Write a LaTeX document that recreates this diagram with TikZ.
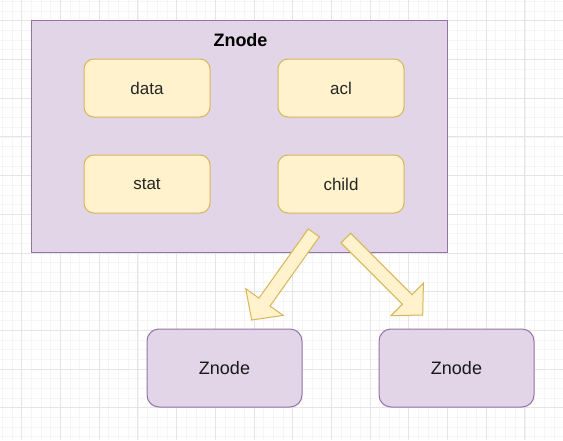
\documentclass[tikz,border=0pt]{standalone}
\usepackage{fontspec}
\setmainfont{Liberation Sans}
\usetikzlibrary{calc, backgrounds}
\definecolor{lavFill}{HTML}{E1D5E7}
\definecolor{lavDraw}{HTML}{9673A6}
\definecolor{creamFill}{HTML}{FFF2CC}
\definecolor{creamDraw}{HTML}{D6B656}
\tikzset{znodeBox/.style={shape=rectangle, draw=lavDraw, fill=lavFill, line width=1pt}}
\tikzset{fieldBox/.style={shape=rectangle, rounded corners=10pt, draw=creamDraw, fill=creamFill, line width=1pt, minimum width=126pt, minimum height=58pt, font=\fontsize{17}{20}\selectfont, text=black!85}}
\tikzset{childBox/.style={shape=rectangle, rounded corners=12pt, draw=lavDraw, fill=lavFill, line width=1pt, minimum width=155pt, minimum height=78pt, font=\fontsize{18}{21}\selectfont, text=black!90}}
\tikzset{blockArrow/.style={draw=creamDraw, fill=creamFill, line width=1pt, line join=miter}}
\tikzset{minorGrid/.style={draw=black!4, line width=0.6pt}}
\tikzset{majorGrid/.style={draw=black!10, line width=0.8pt}}

\begin{document}
\begin{tikzpicture}[x=1pt, y=-1pt,
  background rectangle/.style={fill=white}, show background rectangle]

\useasboundingbox (0,0) rectangle (563,440);

% background grid
\foreach \i in {0,...,58}{
  \draw[minorGrid] ({2.35+\i*9.675},0) -- ({2.35+\i*9.675},440);
}
\foreach \j in {0,...,45}{
  \draw[minorGrid] (0,{1.35+\j*9.675}) -- (563,{1.35+\j*9.675});
}
\foreach \i in {0,...,14}{
  \draw[majorGrid] ({21.7+\i*38.7},0) -- ({21.7+\i*38.7},440);
}
\foreach \j in {0,...,11}{
  \draw[majorGrid] (0,{20.7+\j*38.7}) -- (563,{20.7+\j*38.7});
}

% Znode with its fields
\node[znodeBox, minimum width=416pt, minimum height=232pt] (znode) at (239,136) {};
\node[font=\bfseries\fontsize{18}{21}\selectfont, text=black] (title) at (240.5,40) {Znode};
\node[fieldBox] (data) at (147,88) {data};
\node[fieldBox] (acl) at (341,88) {acl};
\node[fieldBox] (stat) at (147,184) {stat};
\node[fieldBox] (child) at (341,184) {child};

% child znodes
\node[childBox] (left) at (224.5,368) {Znode};
\node[childBox] (right) at (456.5,368) {Znode};

% block arrows
\coordinate (t1) at (313.8,232.8);
\coordinate (p1) at (251.7,320);
\coordinate (t2) at (345.8,238);
\coordinate (p2) at (422.7,315);

\foreach \t/\p in {t1/p1, t2/p2}{
  \coordinate (h) at ($(\p)!22pt!(\t)$);
  \draw[blockArrow] ($(\t)!6.8pt!90:(\p)$) -- ($(h)!6.8pt!90:(\p)$)
    -- ($(h)!23pt!90:(\p)$) -- (\p) -- ($(h)!23pt!-90:(\p)$)
    -- ($(h)!6.8pt!-90:(\p)$) -- ($(\t)!6.8pt!-90:(\p)$) -- cycle;
}

\end{tikzpicture}
\end{document}
